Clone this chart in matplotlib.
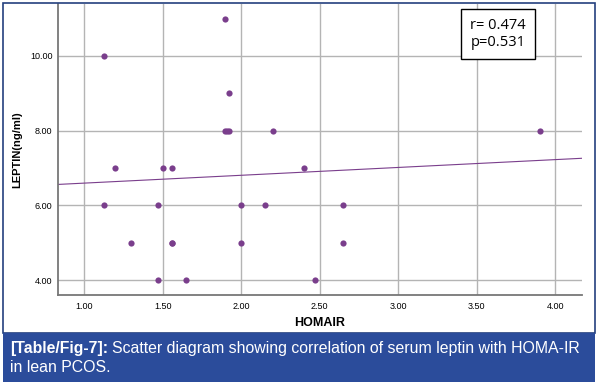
import numpy as np
import matplotlib
matplotlib.use("Agg")
import matplotlib.pyplot as plt
from matplotlib.patches import Rectangle

# data
homair = [1.13, 1.90, 1.92, 1.90, 1.91, 1.92, 2.20, 1.20, 1.50, 1.56, 2.40, 3.90,
          1.13, 1.47, 2.00, 2.15, 2.65, 1.30, 1.56, 1.56, 2.00, 2.65, 1.47, 1.65, 2.47]
leptin = [10, 11, 9, 8, 8, 8, 8, 7, 7, 7, 7, 8,
          6, 6, 6, 6, 6, 5, 5, 5, 5, 5, 4, 4, 4]
fit_x = [0.834, 4.17]
fit_y = [6.56, 7.26]
xticks = [1.0, 1.5, 2.0, 2.5, 3.0, 3.5, 4.0]
yticks = [4.0, 6.0, 8.0, 10.0]
stats_text = "r= 0.474\np=0.531"

purple = "#7a3e8c"
W, H = 598, 385
fig = plt.figure(figsize=(W/100, H/100), dpi=100)
ax = fig.add_axes([58/W, 1 - 295/H, (582 - 58)/W, (295 - 4)/H])

ax.set_xlim(0.834, 4.17)
ax.set_ylim(3.6, 11.39)
ax.set_xticks(xticks)
ax.set_yticks(yticks)
ax.set_xticklabels(["%.2f" % v for v in xticks])
ax.set_yticklabels(["%.2f" % v for v in yticks])
ax.tick_params(length=0, labelsize=6.5)
ax.tick_params(axis="x", pad=5)
ax.tick_params(axis="y", pad=4)
for lab in ax.get_xticklabels() + ax.get_yticklabels():
    lab.set_family("Liberation Sans")
ax.grid(True, color="#b4b4b4", lw=1)
ax.set_axisbelow(True)
for s in ["top", "right"]:
    ax.spines[s].set_visible(False)
for s in ["left", "bottom"]:
    ax.spines[s].set_color("#777777")
    ax.spines[s].set_linewidth(1.3)

ax.plot(fit_x, fit_y, color=purple, lw=0.8)
ax.scatter(homair, leptin, s=20, color=purple, zorder=3, linewidths=0)

fig.text(320/W, 1 - 323/H, "HOMAIR", fontsize=9, fontweight="bold",
         family="Liberation Sans", ha="center", va="center")
fig.text(17/W, 1 - 150/H, "LEPTIN(ng/ml)", fontsize=8, fontweight="bold",
         family="Liberation Sans", ha="center", va="center", rotation=90)

fig.text(498/W, 1 - 34/H, stats_text, ha="center", va="center", fontsize=10.5,
         family="Open Sans", linespacing=1.25,
         bbox=dict(boxstyle="square,pad=0.6", fc="white", ec="black", lw=1))

# border and caption band
fig.patches.append(Rectangle((3/W, 1 - 333/H), 592/W, 330/H, transform=fig.transFigure,
                             fill=False, ec="#24407e", lw=1.2))
fig.patches.append(Rectangle((3/W, 1 - 382/H), 592/W, 49/H, transform=fig.transFigure,
                             fc="#2b4c9b", ec="none"))
bold = fig.text(10/W, 1 - 349/H, "[Table/Fig-7]:", color="white", fontsize=11.4,
                fontweight="bold", family="Liberation Sans", va="center")
fig.canvas.draw()
bb = bold.get_window_extent()
fig.text((bb.x1 + 4)/W, 1 - 349/H,
         "Scatter diagram showing correlation of serum leptin with HOMA-IR",
         color="white", fontsize=11.4, family="Liberation Sans", va="center")
fig.text(10/W, 1 - 368/H, "in lean PCOS.", color="white", fontsize=11.4,
         family="Liberation Sans", va="center")

fig.savefig("out.png", dpi=100)
